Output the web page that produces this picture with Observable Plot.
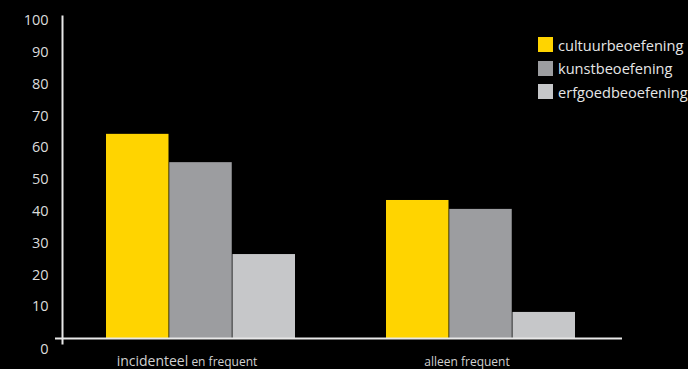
<!DOCTYPE html>
<html>
<head>
<meta charset="utf-8">
<script src="https://cdn.jsdelivr.net/npm/d3@7"></script>
<script src="https://cdn.jsdelivr.net/npm/@observablehq/plot@0.6"></script>
<style>
  html, body { margin: 0; padding: 0; background: #000; }
  #wrap { position: relative; width: 688px; height: 369px; overflow: hidden; background: #000; font-family: "Open Sans", sans-serif; }
  #legend { position: absolute; left: 538px; top: 37px; }
  #legend .lg-swatch { display: flex; align-items: center; height: 15px; margin-bottom: 8.5px !important; padding: 0 !important; }
  #legend .lg-swatch svg { margin-right: 5px !important; }
  #legend .lg-swatch div, #legend .lg-swatch span { font-size: 14.6px; color: #e6e6e6; white-space: nowrap; overflow: visible; }
</style>
</head>
<body>
<div id="wrap"><div id="chart"></div><div id="legend"></div></div>
<script>
const groups = ["incidenteel en frequent", "alleen frequent"];
const series = ["cultuurbeoefening", "kunstbeoefening", "erfgoedbeoefening"];
const cultuur = [64.2, 43.4];
const kunst = [55.3, 40.6];
const erfgoed = [26.4, 8.2];
const yTicks = [10, 20, 30, 40, 50, 60, 70, 80, 90, 100];
const colors = ["#FFD400", "#9C9DA0", "#C6C7C9"];

const values = [cultuur, kunst, erfgoed];
const data = groups.flatMap((g, i) => series.map((s, k) => ({group: g, series: s, value: values[k][i]})));

const bw = 189.75 / 3;

const chart = Plot.plot({
  width: 688,
  height: 369,
  marginTop: 20,
  marginBottom: 31,
  marginLeft: 62,
  marginRight: 66,
  style: {background: "#000", color: "#ddd", fontFamily: "Open Sans, sans-serif", fontSize: "14px"},
  x: {domain: groups, paddingInner: 0.3241, paddingOuter: 0.1594, align: 0.486, axis: null},
  y: {domain: [0, 100], axis: null},
  color: {domain: series, range: colors},
  marks: [
    ...series.map((s, k) => Plot.barY(data.filter(d => d.series === s), {
      x: "group", y: "value", fill: "series",
      insetLeft: k * bw, insetRight: (2 - k) * bw
    })),
    Plot.ruleY([0], {stroke: "#e8e8e8", strokeWidth: 2, insetLeft: -7}),
    Plot.frame({anchor: "left", stroke: "#e8e8e8", strokeWidth: 2, insetTop: -4, insetBottom: -5}),
    Plot.axisY({ticks: yTicks, tickSize: 0, tickPadding: 14, fontSize: 14.5, fill: "#dcdcdc", label: null}),
    Plot.axisY({ticks: [0], tickSize: 0, tickPadding: 14, dy: 11, fontSize: 14.5, fill: "#dcdcdc", label: null}),
    Plot.axisX({tickSize: 0, tickPadding: 19, dx: -14, fontSize: 12, fill: "#d0d0d0", label: null})
  ]
});

d3.select(chart).selectAll("text").filter(function() { return this.textContent === "incidenteel en frequent"; })
  .each(function() {
    const t = d3.select(this);
    t.text(null);
    t.append("tspan").attr("font-size", 14).text("incidenteel");
    t.append("tspan").attr("font-size", 12).text(" en frequent");
  });

document.getElementById("chart").appendChild(chart);

const legend = Plot.legend({
  color: {domain: series, range: colors},
  legend: "swatches",
  columns: 1,
  swatchSize: 15,
  className: "lg",
  style: {background: "transparent", color: "#e6e6e6", fontFamily: "Open Sans, sans-serif", fontSize: "14.6px"}
});
document.getElementById("legend").appendChild(legend);
</script>
</body>
</html>
